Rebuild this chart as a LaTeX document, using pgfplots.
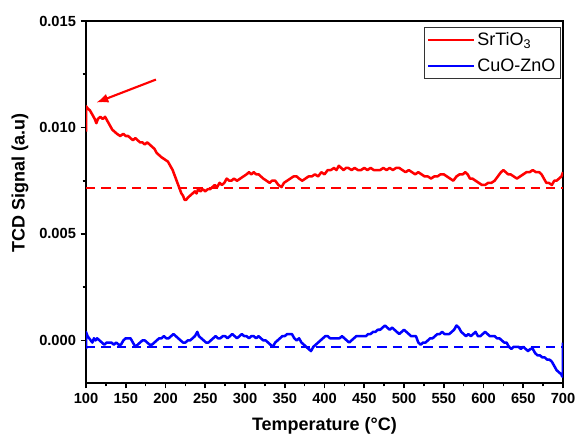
\documentclass[border=0pt]{standalone}
\usepackage{pgfplots}
\pgfplotsset{compat=1.18}
\usepackage{fontspec}
\setmainfont{Liberation Sans}
\usetikzlibrary{arrows.meta}

\definecolor{myred}{RGB}{255,0,0}
\definecolor{myblue}{RGB}{0,0,255}

\begin{document}
\begin{tikzpicture}
\begin{axis}[
    scale only axis,
    width=357.75pt, height=271.5pt,
    xmin=100, xmax=700,
    ymin=-0.002, ymax=0.015,
    xtick={100,150,...,700},
    ytick={0,0.005,0.010,0.015},
    minor x tick num=1,
    minor y tick num=1,
    tick pos=left,
    tick align=outside,
    major tick length=4pt,
    minor tick length=2.5pt,
    every tick/.style={black, line width=1.2pt},
    axis line style={line width=1.5pt},
    scaled y ticks=false,
    /pgf/number format/assume math mode=true,
    yticklabel style={/pgf/number format/fixed, /pgf/number format/fixed zerofill, /pgf/number format/precision=3},
    tick label style={font=\bfseries\fontsize{11}{13}\selectfont},
    xlabel={Temperature (°C)},
    ylabel={TCD Signal (a.u)},
    label style={font=\bfseries\fontsize{13.5}{16}\selectfont},
    xlabel style={at={(axis description cs:0.5,0)}, anchor=base, yshift=-35.5pt},
    ylabel style={at={(axis description cs:-0.1384,0.552)}, anchor=center},
    legend style={at={(0.996,0.983)}, anchor=north east, draw=black!80, line width=0.6pt,
        font=\fontsize{13.5}{16}\selectfont, inner sep=2pt, row sep=4pt,
        cells={anchor=west}},
    legend image code/.code={\draw[#1, line width=1.5pt] (0cm,0cm) -- (1.2cm,0cm);},
]

% SrTiO3
\addplot[myred, line width=1.9pt, line join=round] coordinates {
(100,0.0098)(100,0.0110)(102,0.0109)(105,0.0108)(108,0.0106)(111,0.0104)(113,0.0102)(115,0.0104)(118,0.0105)(121,0.0104)(124,0.0105)(127,0.0103)(130,0.0101)(133,0.0099)(136,0.0098)(139,0.0097)(143,0.0096)(147,0.0097)(150,0.0096)(153,0.0096)(156,0.0095)(159,0.0094)(162,0.0095)(165,0.0094)(168,0.0093)(171,0.0093)(174,0.0092)(177,0.0093)(180,0.0092)(183,0.0091)(186,0.0090)(189,0.0088)(192,0.0087)(195,0.0086)(199,0.0085)(203,0.0084)(206,0.0082)(209,0.0080)(212,0.0077)(215,0.0074)(218,0.0071)(220,0.0069)(222,0.0068)(224,0.0066)(226,0.0066)(228,0.0067)(231,0.0068)(234,0.0069)(237,0.0070)(239,0.0069)(241,0.0071)(244,0.0070)(247,0.0071)(250,0.0070)(253,0.0071)(256,0.0071)(259,0.0072)(262,0.0073)(265,0.0072)(268,0.0074)(271,0.0073)(274,0.0074)(277,0.0076)(280,0.0075)(283,0.0075)(286,0.0076)(290,0.0075)(294,0.0076)(298,0.0077)(302,0.0078)(305,0.0079)(308,0.0078)(311,0.0079)(314,0.0078)(317,0.0078)(320,0.0077)(323,0.0076)(327,0.0075)(331,0.0074)(334,0.0075)(338,0.0075)(342,0.0073)(346,0.0072)(349,0.0074)(353,0.0075)(357,0.0076)(361,0.0077)(365,0.0077)(368,0.0076)(372,0.0075)(376,0.0076)(380,0.0077)(384,0.0077)(388,0.0078)(392,0.0077)(396,0.0079)(400,0.0078)(404,0.0080)(408,0.0080)(412,0.0081)(415,0.0080)(418,0.0082)(421,0.0081)(424,0.0080)(427,0.0081)(430,0.0081)(434,0.0080)(438,0.0081)(442,0.0080)(446,0.0080)(450,0.0081)(454,0.0080)(458,0.0081)(462,0.0080)(466,0.0080)(470,0.0080)(474,0.0081)(478,0.0080)(482,0.0081)(486,0.0080)(490,0.0081)(494,0.0081)(498,0.0080)(502,0.0079)(506,0.0080)(510,0.0079)(514,0.0078)(518,0.0079)(522,0.0078)(526,0.0077)(530,0.0077)(534,0.0076)(538,0.0077)(542,0.0077)(546,0.0078)(550,0.0078)(554,0.0077)(558,0.0076)(562,0.0075)(566,0.0077)(570,0.0078)(574,0.0078)(577,0.0079)(580,0.0078)(583,0.0076)(586,0.0076)(590,0.0075)(594,0.0074)(598,0.0073)(602,0.0073)(606,0.0074)(610,0.0074)(614,0.0075)(618,0.0077)(622,0.0079)(625,0.0080)(628,0.0079)(631,0.0078)(634,0.0078)(638,0.0077)(642,0.0076)(646,0.0077)(650,0.0078)(654,0.0079)(658,0.0079)(662,0.0080)(666,0.0079)(670,0.0079)(673,0.0078)(676,0.0076)(679,0.0074)(682,0.0074)(686,0.0073)(689,0.0075)(692,0.0075)(695,0.0076)(698,0.0077)(700,0.0079)
};
\addlegendentry{SrTiO\textsubscript{3}}

% CuO-ZnO
\addplot[myblue, line width=1.9pt, line join=round] coordinates {
(100,-0.0004)(100,0.0004)(102,0.0002)(104,0.0001)(106,0.0000)(108,-0.0001)(110,0.0001)(112,0.0000)(114,0.0001)(117,0.0000)(120,-0.0001)(123,-0.0002)(126,-0.0001)(129,-0.0001)(132,-0.0001)(135,-0.0002)(138,-0.0001)(141,-0.0002)(144,-0.0002)(147,0.0000)(150,0.0001)(153,0.0001)(156,0.0001)(159,-0.0001)(162,-0.0003)(165,-0.0002)(168,-0.0001)(171,0.0000)(174,0.0000)(177,-0.0001)(180,-0.0002)(183,-0.0002)(186,-0.0001)(189,0.0000)(192,0.0001)(195,0.0001)(198,0.0002)(201,0.0001)(204,0.0001)(207,0.0002)(210,0.0003)(213,0.0002)(216,0.0001)(219,0.0000)(222,-0.0001)(225,-0.0001)(228,0.0000)(231,0.0000)(234,0.0001)(237,0.0002)(240,0.0004)(242,0.0002)(245,0.0001)(248,0.0000)(251,-0.0001)(254,-0.0001)(257,0.0000)(260,0.0001)(263,0.0002)(266,0.0001)(269,0.0001)(272,0.0002)(275,0.0002)(278,0.0001)(281,0.0002)(284,0.0003)(287,0.0002)(290,0.0001)(293,0.0002)(296,0.0003)(299,0.0002)(302,0.0002)(305,0.0001)(308,0.0002)(311,0.0002)(314,0.0001)(317,0.0002)(320,0.0001)(323,0.0000)(326,0.0000)(329,-0.0001)(332,-0.0002)(335,-0.0003)(338,-0.0001)(341,0.0000)(344,0.0001)(347,0.0002)(350,0.0002)(353,0.0003)(356,0.0003)(359,0.0003)(362,0.0001)(365,0.0000)(368,0.0001)(371,-0.0001)(374,-0.0002)(377,-0.0003)(380,-0.0004)(383,-0.0005)(386,-0.0003)(389,-0.0002)(392,-0.0001)(395,0.0000)(398,0.0001)(401,0.0002)(404,0.0002)(407,0.0001)(410,0.0001)(413,0.0001)(416,0.0001)(419,0.0001)(422,0.0002)(425,0.0001)(428,0.0000)(431,-0.0001)(434,0.0000)(437,0.0001)(440,0.0002)(443,0.0002)(446,0.0002)(449,0.0002)(452,0.0002)(455,0.0003)(458,0.0003)(461,0.0004)(464,0.0004)(467,0.0005)(470,0.0005)(473,0.0006)(476,0.0007)(479,0.0006)(482,0.0005)(485,0.0006)(488,0.0005)(491,0.0004)(494,0.0003)(497,0.0004)(500,0.0005)(503,0.0004)(506,0.0003)(509,0.0002)(512,0.0002)(515,0.0002)(518,-0.0001)(521,-0.0002)(524,-0.0001)(527,-0.0001)(530,0.0000)(533,0.0001)(536,0.0001)(539,0.0002)(542,0.0003)(545,0.0003)(548,0.0004)(551,0.0003)(554,0.0003)(557,0.0003)(560,0.0004)(563,0.0005)(566,0.0007)(569,0.0006)(572,0.0004)(575,0.0003)(578,0.0002)(581,0.0003)(584,0.0002)(587,0.0003)(590,0.0004)(593,0.0002)(596,0.0002)(599,0.0003)(602,0.0004)(605,0.0003)(608,0.0002)(611,0.0002)(614,0.0002)(617,0.0001)(620,0.0001)(623,0.0000)(626,-0.0001)(629,-0.0001)(632,-0.0003)(635,-0.0004)(638,-0.0003)(641,-0.0003)(644,-0.0003)(647,-0.0004)(650,-0.0003)(653,-0.0004)(656,-0.0005)(659,-0.0004)(662,-0.0004)(665,-0.0006)(668,-0.0007)(671,-0.0007)(674,-0.0008)(677,-0.0008)(680,-0.0009)(683,-0.0009)(686,-0.0010)(689,-0.0012)(692,-0.0014)(695,-0.0015)(698,-0.0016)(699,-0.0017)(700,-0.0016)(700,-0.0001)
};
\addlegendentry{CuO-ZnO}

% baselines
\addplot[myred, line width=1.5pt, dash pattern=on 7pt off 4.5pt, forget plot] coordinates {(100,0.00714)(700,0.00714)};
\addplot[myblue, line width=1.5pt, dash pattern=on 7pt off 4.5pt, forget plot] coordinates {(100,-0.00033)(700,-0.00033)};

\draw[myred, line width=1.6pt, -{Latex[length=9pt, width=7pt]}] (axis cs:188,0.01225) -- (axis cs:113,0.01117);

\coordinate (bl) at (rel axis cs:0,0);
\coordinate (tr) at (rel axis cs:1,1);
\end{axis}
\pgfresetboundingbox
\path[use as bounding box] ([shift={(-64.5pt,-38.25pt)}]bl) rectangle ([shift={(9pt,15.75pt)}]tr);
\end{tikzpicture}
\end{document}
